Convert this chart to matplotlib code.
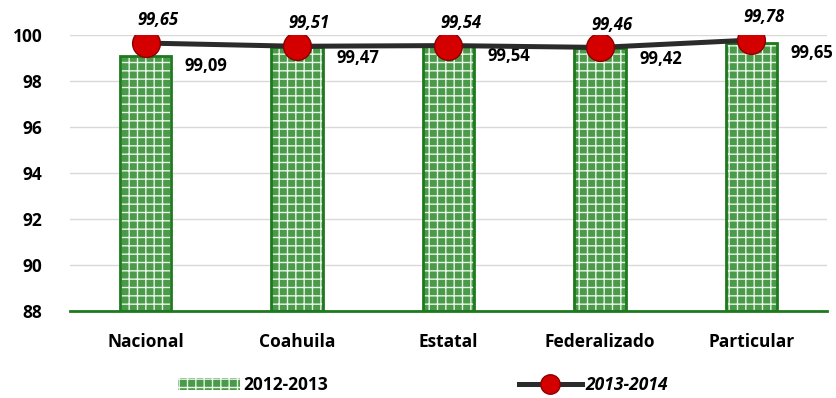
import numpy as np
import matplotlib.pyplot as plt
from matplotlib.lines import Line2D
from matplotlib.patches import Patch

categories = ["Nacional", "Coahuila", "Estatal", "Federalizado", "Particular"]
serie_2012 = [99.09, 99.47, 99.54, 99.42, 99.65]
serie_2013 = [99.65, 99.51, 99.54, 99.46, 99.78]
label_2012 = "2012-2013"
label_2013 = "2013-2014"

plt.rcParams['font.family'] = ['Open Sans', 'DejaVu Sans']
plt.rcParams['hatch.linewidth'] = 1.0

fig = plt.figure(figsize=(8.37, 3.98), dpi=100)
ax = fig.add_axes([70/837, 1-311/398, 757/837, 276/398])

x = np.arange(len(categories))
green = '#1e7a1e'
fill = '#4a9a4a'
# brick-like fill
ax.bar(x, np.array(serie_2012) - 88, bottom=88, width=0.34, color=fill,
       edgecolor='#e8f4e8', hatch='++', linewidth=0, zorder=2)
ax.bar(x, np.array(serie_2012) - 88, bottom=88, width=0.34, fill=False,
       edgecolor=green, linewidth=2, zorder=3)

ax.plot(x, serie_2013, color='#2b2b2b', linewidth=3.6, zorder=4,
        marker='o', markersize=20, markerfacecolor='#d40000',
        markeredgecolor='#8a0000', markeredgewidth=1)

for i in range(len(categories)):
    ax.text(x[i] + 0.08, serie_2013[i] + 0.6, f"{serie_2013[i]:.2f}".replace('.', ','),
            ha='center', va='bottom', fontsize=12, fontweight='bold', style='italic')
    ax.text(x[i] + 0.4, serie_2012[i] - 0.45, f"{serie_2012[i]:.2f}".replace('.', ','),
            ha='center', va='center', fontsize=12, fontweight='bold')

ax.set_xlim(-0.5, len(categories) - 0.5)
ax.set_ylim(88, 100)
ax.set_yticks(np.arange(88, 101, 2))
ax.yaxis.grid(True, color='#d9d9d9', linewidth=1)
ax.set_axisbelow(True)
ax.tick_params(axis='both', length=0, labelsize=12.5)
ax.tick_params(axis='y', pad=20)
ax.tick_params(axis='x', pad=16)
for lab in ax.get_xticklabels() + ax.get_yticklabels():
    lab.set_fontweight('bold')
ax.set_xticks(x)
ax.set_xticklabels(categories, fontweight='bold')
for s in ['top', 'right', 'left']:
    ax.spines[s].set_visible(False)
ax.spines['bottom'].set_color(green)
ax.spines['bottom'].set_linewidth(2)
ax.spines['bottom'].set_zorder(5)

h1 = Patch(facecolor=fill, edgecolor='#e8f4e8', hatch='++', linewidth=0)
h2 = Line2D([], [], color='#2b2b2b', linewidth=3.6, marker='o', markersize=14,
            markerfacecolor='#d40000', markeredgecolor='#8a0000')
leg = fig.legend([h1, h2], [label_2012, label_2013], loc='center',
                 bbox_to_anchor=(0.505, 0.033), ncol=2, frameon=False,
                 columnspacing=11, handlelength=3.6, handletextpad=0.2,
                 prop={'weight': 'bold', 'size': 12.5})
leg.get_texts()[1].set_style('italic')

fig.savefig('out.png', dpi=100)
